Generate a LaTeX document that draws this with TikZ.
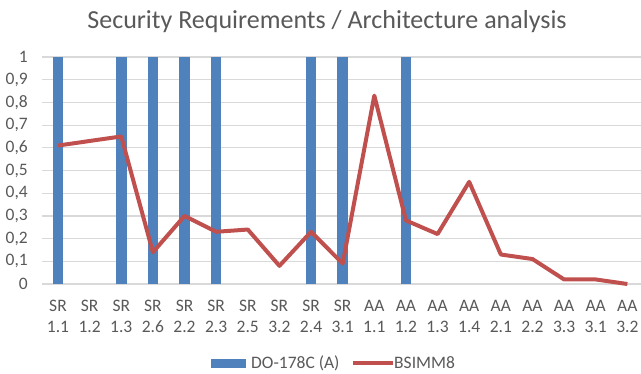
\documentclass[tikz,border=0pt]{standalone}
\usepackage{fontspec}
\setmainfont{Carlito}
\definecolor{barblue}{HTML}{4F81BD}
\definecolor{linered}{HTML}{C0504D}
\definecolor{gridgray}{HTML}{D9D9D9}
\definecolor{labelgray}{HTML}{595959}

\begin{document}
\begin{tikzpicture}[x=1pt, y=-1pt, line join=round,
  every node/.style={text=labelgray, inner sep=0pt},
  gridline/.style={gridgray, line width=1.2pt},
  bar/.style={fill=barblue, draw=none},
  serie/.style={linered, line width=4pt, line join=round},
  ticklab/.style={font=\fontsize{17.5}{21}\selectfont, anchor=east},
  catlab/.style={font=\fontsize{17.5}{21}\selectfont, align=center}]

\useasboundingbox (0,0) rectangle (641,373);

% Title
\node[font=\fontsize{26}{30}\selectfont] (title) at (327,22)
    {Security Requirements / Architecture analysis};

% Axes ------------------------------
\pgfmathsetmacro{\xzero}{42.2}
\pgfmathsetmacro{\xstep}{31.63}
\pgfmathsetmacro{\ybase}{284}
\pgfmathsetmacro{\yunit}{227}

% horizontal grid and value labels
\foreach \lab [count=\k from 0] in {0,{0,1},{0,2},{0,3},{0,4},{0,5},{0,6},{0,7},{0,8},{0,9},1} {
    \pgfmathsetmacro{\yk}{\ybase-\yunit*\k/10}
    \draw[gridline] (\xzero,\yk) -- (641,\yk);
    \node[ticklab] (ylab\k) at (28,\yk) {\lab};
}

% category labels
\foreach \grp/\num [count=\i from 0] in {SR/1.1,SR/1.2,SR/1.3,SR/2.6,SR/2.2,SR/2.3,SR/2.5,SR/3.2,SR/2.4,SR/3.1,
    AA/1.1,AA/1.2,AA/1.3,AA/1.4,AA/2.1,AA/2.2,AA/3.3,AA/3.1,AA/3.2} {
    \node[catlab] (xlab\i) at ({\xzero+(\i+0.5)*\xstep},316.5) {\grp\\\num};
}

% DO-178C (A) bars ------------------------------
\foreach \i in {0,2,3,4,5,8,9,11}
    \fill[bar] ({\xzero+(\i+0.5)*\xstep-5.25},{\ybase-\yunit}) rectangle ++(10.5,\yunit);

% BSIMM8 line ------------------------------
\foreach \v [count=\i from 0] in {0.61,0.63,0.65,0.14,0.30,0.23,0.24,0.08,0.23,0.09,
    0.83,0.28,0.22,0.45,0.13,0.11,0.02,0.02,0.00}
    \coordinate (p\i) at ({\xzero+(\i+0.5)*\xstep},{\ybase-\yunit*\v});
\draw[serie] (p0) \foreach \i in {1,...,18} { -- (p\i) };

% Legend ------------------------------
\fill[bar] (211,359) rectangle (246,368);
\node[catlab, anchor=west] (legA) at (251,363) {DO-178C (A)};
\coordinate (legLa) at (353,363);
\coordinate (legLb) at (393,363);
\draw[serie] (legLa) -- (legLb);
\node[catlab, anchor=west] (legB) at (394,363) {BSIMM8};

\end{tikzpicture}
\end{document}
